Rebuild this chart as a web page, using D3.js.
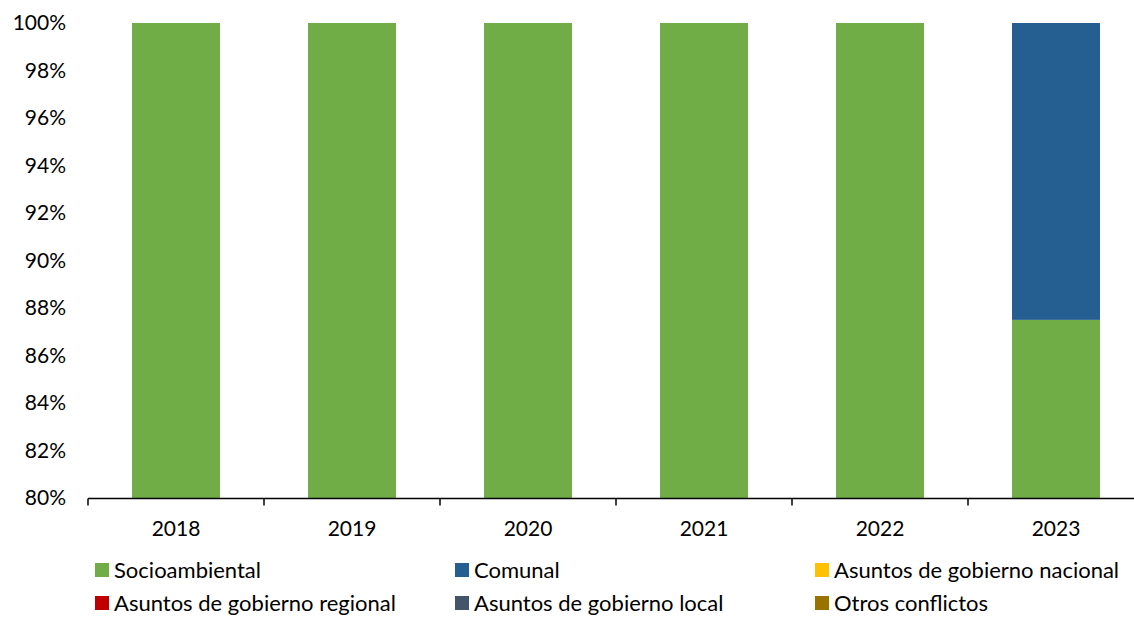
<!DOCTYPE html>
<html>
<head>
<meta charset="utf-8">
<script src="https://cdn.jsdelivr.net/npm/d3@7"></script>
<style>
  html, body { margin: 0; padding: 0; background: #fff; }
  svg { display: block; font-family: Lato, "Open Sans", sans-serif; }
</style>
</head>
<body>
<svg id="chart" width="1134" height="619"></svg>
<script>
// Share of conflicts by type, per year (percent)
const years = ["2018", "2019", "2020", "2021", "2022", "2023"];
const seriesNames = ["Socioambiental", "Comunal", "Asuntos de gobierno nacional",
                     "Asuntos de gobierno regional", "Asuntos de gobierno local", "Otros conflictos"];
const seriesColors = ["#70AD47", "#255E91", "#FFC000", "#C00000", "#44546A", "#997300"];
const socioambiental = [100, 100, 100, 100, 100, 87.5];
const comunal        = [0, 0, 0, 0, 0, 12.5];
const gobNacional    = [0, 0, 0, 0, 0, 0];
const gobRegional    = [0, 0, 0, 0, 0, 0];
const gobLocal       = [0, 0, 0, 0, 0, 0];
const otros          = [0, 0, 0, 0, 0, 0];
const yTicks = [80, 82, 84, 86, 88, 90, 92, 94, 96, 98, 100];

const seriesValues = [socioambiental, comunal, gobNacional, gobRegional, gobLocal, otros];
const table = years.map((y, i) => {
  const row = { year: y };
  seriesNames.forEach((n, s) => row[n] = seriesValues[s][i]);
  return row;
});

const svg = d3.select("#chart");
const margin = { left: 88, top: 23, bottom: 498 };
const plotW = 176 * years.length;

const x = d3.scaleBand().domain(years).range([margin.left, margin.left + plotW]).paddingInner(0.5).paddingOuter(0.25);
const y = d3.scaleLinear().domain([80, 100]).range([margin.bottom, margin.top]);

const stacked = d3.stack().keys(seriesNames)(table);

const clipId = "plotclip";
svg.append("clipPath").attr("id", clipId)
  .append("rect").attr("x", margin.left).attr("y", margin.top)
  .attr("width", plotW).attr("height", margin.bottom - margin.top);

svg.append("g").attr("clip-path", `url(#${clipId})`)
  .selectAll("g").data(stacked).join("g")
  .attr("fill", (d, i) => seriesColors[i])
  .selectAll("rect").data(d => d.filter(p => p[1] > p[0])).join("rect")
  .attr("x", d => x(d.data.year))
  .attr("width", x.bandwidth())
  .attr("y", d => y(Math.min(d[1], 100)))
  .attr("height", d => y(Math.max(d[0], 80)) - y(Math.min(d[1], 100)));

// Y axis labels (no axis line)
const yAxis = d3.axisLeft(y).tickValues(yTicks).tickFormat(d => d + "%").tickSize(0).tickPadding(22);
const gy = svg.append("g").attr("transform", `translate(${margin.left},0)`).call(yAxis);
gy.select(".domain").remove();
gy.selectAll("text").attr("font-size", 21).attr("fill", "#000")
  .attr("font-family", "Lato, 'Open Sans', sans-serif");

// X axis: line with ticks at category boundaries
const gx = svg.append("g").attr("transform", `translate(0,${margin.bottom + 0.5})`);
gx.append("line").attr("x1", margin.left).attr("x2", margin.left + plotW)
  .attr("stroke", "#000").attr("stroke-width", 1.5);
const bounds = d3.range(years.length + 1).map(i => margin.left + i * x.step());
gx.selectAll("line.tick").data(bounds).join("line").attr("class", "tick")
  .attr("x1", d => d).attr("x2", d => d).attr("y1", 0).attr("y2", 7)
  .attr("stroke", "#000").attr("stroke-width", 1.5);
gx.selectAll("text").data(years).join("text")
  .attr("x", d => x(d) + x.bandwidth() / 2)
  .attr("y", 37)
  .attr("text-anchor", "middle")
  .attr("font-size", 21).attr("fill", "#000")
  .text(d => d);

// Legend
const legend = svg.append("g");
const item = legend.selectAll("g").data(seriesNames).join("g")
  .attr("transform", (d, i) => `translate(${95 + (i % 3) * 360},${570 + Math.floor(i / 3) * 33})`);
item.append("rect").attr("x", 0).attr("y", -7).attr("width", 14).attr("height", 14)
  .attr("fill", (d, i) => seriesColors[i]);
item.append("text").attr("x", 19).attr("y", 0).attr("dy", "0.35em")
  .attr("font-size", 22).attr("fill", "#000").text(d => d);
</script>
</body>
</html>
